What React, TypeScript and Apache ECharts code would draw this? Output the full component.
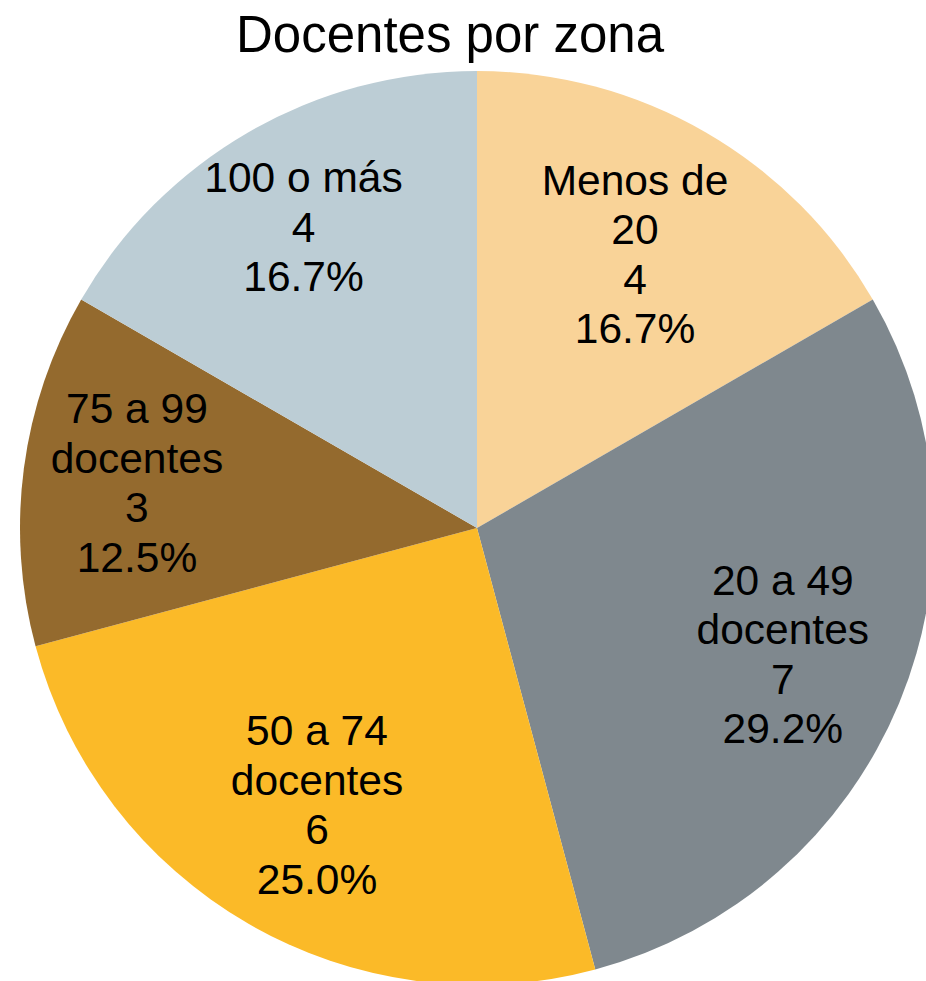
import React, { useEffect, useRef } from "react";
import * as echarts from "echarts";

const titleText = "Docentes por zona";
const categories = [
  "Menos de\n20",
  "20 a 49\ndocentes",
  "50 a 74\ndocentes",
  "75 a 99\ndocentes",
  "100 o más",
];
const values = [4, 7, 6, 3, 4];
const colors = ["#F9D398", "#7F888E", "#FBBA28", "#946A2E", "#BCCDD5"];
// radial distance of each label's centre from the pie centre (layout only)
const labelDistance = [316, 331, 320, 343, 347];

const CX = 477;
const CY = 528;
const R = 457;

export default function App() {
  const ref = useRef<HTMLDivElement>(null);
  useEffect(() => {
    if (!ref.current) return;
    const chart = echarts.init(ref.current, undefined, { renderer: "svg" });
    const data = categories.map((name, i) => ({
      name,
      value: values[i],
      itemStyle: { color: colors[i] },
    }));
    const total = values.reduce((a, b) => a + b, 0);
    chart.setOption({
      animation: false,
      title: {
        text: titleText,
        left: 445,
        textAlign: "center",
        top: 4,
        textStyle: {
          fontFamily: "Liberation Sans, Arial, sans-serif",
          fontSize: 51,
          fontWeight: "normal",
          color: "#000",
        },
      },
      series: [
        {
          type: "pie",
          center: [CX, CY],
          radius: [0, R],
          startAngle: 90,
          clockwise: true,
          silent: true,
          label: { show: false },
          labelLine: { show: false },
          itemStyle: { borderWidth: 0 },
          data,
        },
        {
          type: "pie",
          center: [CX, CY],
          radius: [205, R],
          startAngle: 90,
          clockwise: true,
          silent: true,
          itemStyle: { color: "transparent", borderWidth: 0 },
          labelLine: { show: false },
          label: {
            show: true,
            position: "inside",
            fontFamily: "Liberation Sans, Arial, sans-serif",
            fontSize: 42.5,
            lineHeight: 49.5,
            color: "#000",
            align: "center",
            formatter: (p: any) =>
              `${p.name}\n${p.value}\n${((p.value / total) * 100).toFixed(1)}%`,
          },
          labelLayout: (p: any) => {
            const lr = p.labelRect;
            const mx = lr.x + lr.width / 2 - CX;
            const my = lr.y + lr.height / 2 - CY;
            const d = Math.sqrt(mx * mx + my * my) || 1;
            const k = labelDistance[p.dataIndex] / d - 1;
            return { dx: mx * k, dy: my * k };
          },
          data: categories.map((name, i) => ({ name, value: values[i] })),
        },
      ],
    });
    return () => chart.dispose();
  }, []);
  return (
    <div
      ref={ref}
      style={{ position: "absolute", left: 0, top: 0, width: 926, height: 981 }}
    />
  );
}
